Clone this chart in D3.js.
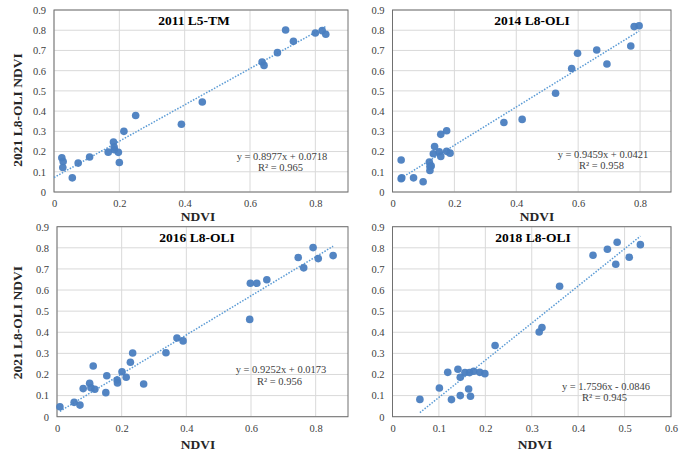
<!DOCTYPE html>
<html>
<head>
<meta charset="utf-8">
<script src="https://cdn.jsdelivr.net/npm/d3@7"></script>
<style>
  body { margin: 0; background: #fff; }
  svg text { font-family: "Liberation Serif", "Times New Roman", serif; }
</style>
</head>
<body>
<svg id="chart"></svg>
<script>
var width = 690;
var height = 453;

// data: x = old-sensor NDVI, y = 2021 L8-OLI NDVI
var x2011 = [0.024,0.028,0.027,0.056,0.074,0.109,0.166,0.182,0.184,0.185,0.197,0.200,0.214,0.250,0.390,0.454,0.637,0.643,0.684,0.709,0.733,0.800,0.821,0.832];
var y2011 = [0.169,0.151,0.121,0.070,0.143,0.173,0.197,0.247,0.222,0.209,0.196,0.146,0.300,0.378,0.335,0.445,0.643,0.626,0.689,0.801,0.745,0.786,0.798,0.780];

var x2014 = [0.028,0.028,0.030,0.068,0.099,0.119,0.121,0.121,0.125,0.132,0.136,0.151,0.156,0.156,0.175,0.175,0.186,0.360,0.419,0.527,0.579,0.598,0.660,0.693,0.770,0.781,0.797];
var y2014 = [0.158,0.066,0.070,0.070,0.051,0.148,0.126,0.106,0.129,0.189,0.225,0.199,0.176,0.285,0.303,0.201,0.192,0.344,0.359,0.488,0.611,0.686,0.702,0.633,0.722,0.818,0.822];

var x2016 = [0.009,0.053,0.071,0.081,0.101,0.105,0.117,0.112,0.151,0.154,0.186,0.187,0.201,0.214,0.227,0.234,0.268,0.337,0.371,0.390,0.596,0.598,0.618,0.649,0.746,0.763,0.792,0.808,0.854];
var y2016 = [0.047,0.068,0.055,0.133,0.158,0.137,0.130,0.240,0.114,0.194,0.174,0.160,0.213,0.187,0.258,0.302,0.155,0.303,0.373,0.359,0.461,0.632,0.632,0.649,0.754,0.705,0.801,0.749,0.763];

var x2018 = [0.059,0.101,0.119,0.127,0.141,0.146,0.146,0.156,0.164,0.168,0.166,0.175,0.188,0.199,0.221,0.316,0.322,0.360,0.432,0.463,0.484,0.481,0.510,0.534];
var y2018 = [0.082,0.136,0.210,0.081,0.225,0.187,0.100,0.209,0.131,0.097,0.209,0.215,0.210,0.204,0.337,0.401,0.422,0.618,0.765,0.793,0.826,0.722,0.755,0.815];

var titles = ["2011 L5-TM", "2014 L8-OLI", "2016 L8-OLI", "2018 L8-OLI"];
var slopes = [0.8977, 0.9459, 0.9252, 1.7596];
var intercepts = [0.0718, 0.0421, 0.0173, -0.0846];
var r2 = [0.965, 0.958, 0.956, 0.945];
var xMax = [0.9, 0.9, 0.9, 0.6];
var xStep = [0.2, 0.2, 0.2, 0.1];
var trendFrom = [0, null, null, null];

var xs = [x2011, x2014, x2016, x2018];
var ys = [y2011, y2014, y2016, y2018];

// plot boxes
var boxes = [
  {l:54, r:348, t:10, b:192},
  {l:392.5, r:671, t:10, b:192},
  {l:57, r:348, t:226.7, b:416.7},
  {l:392.5, r:671, t:226.7, b:416.7}
];
// label spots (title, equation)
var spots = [
  {tx:194, ty:25, ex:282, ey:159.5, nx:198, ny:221},
  {tx:532, ty:25, ex:603, ey:157.5, nx:537, ny:221},
  {tx:197, ty:242, ex:281, ey:373, nx:198, ny:449},
  {tx:533, ty:242, ex:606, ey:389.5, nx:535, ny:449}
];

var dotColor = "#4a7ec0";
var trendColor = "#5b9bd5";

var svg = d3.select("#chart").attr("width", width).attr("height", height);

function fmt(v){ return v === 0 ? "0" : d3.format(".1f")(v); }

boxes.forEach(function(box, i){
  var xscale = d3.scaleLinear().domain([0, xMax[i]]).range([box.l, box.r]);
  var yscale = d3.scaleLinear().domain([0, 0.9]).range([box.b, box.t]);
  var g = svg.append("g");

  var xticks = d3.range(0, xMax[i] + 1e-9, xStep[i]).map(function(v){ return +v.toFixed(2); });
  var yticks = d3.range(0, 0.9 + 1e-9, 0.1).map(function(v){ return +v.toFixed(2); });

  // grid
  g.selectAll(".gy").data(yticks).enter().append("line")
    .attr("x1", box.l).attr("x2", box.r)
    .attr("y1", function(d){ return yscale(d); }).attr("y2", function(d){ return yscale(d); })
    .attr("stroke", "#d9d9d9").attr("stroke-width", 1);
  g.selectAll(".gx").data(xticks).enter().append("line")
    .attr("y1", box.t).attr("y2", box.b)
    .attr("x1", function(d){ return xscale(d); }).attr("x2", function(d){ return xscale(d); })
    .attr("stroke", "#d9d9d9").attr("stroke-width", 1);

  // axes (labels only)
  var xaxis = d3.axisBottom(xscale).tickValues(xticks).tickSize(0).tickPadding(8).tickFormat(fmt);
  var yaxis = d3.axisLeft(yscale).tickValues(yticks).tickSize(0).tickPadding(8).tickFormat(fmt);
  var gx = g.append("g").attr("transform", "translate(0," + box.b + ")").call(xaxis);
  var gy = g.append("g").attr("transform", "translate(" + box.l + ",0)").call(yaxis);
  [gx, gy].forEach(function(a){
    a.select(".domain").remove();
    a.selectAll("text").attr("font-family", "Liberation Serif, Times New Roman, serif")
      .attr("font-size", 10.5).attr("fill", "#404040");
  });

  // border
  g.append("rect").attr("x", box.l).attr("y", box.t)
    .attr("width", box.r - box.l).attr("height", box.b - box.t)
    .attr("fill", "none").attr("stroke", "#707070").attr("stroke-width", 1);

  // trendline
  var x0 = trendFrom[i] !== null ? trendFrom[i] : d3.min(xs[i]);
  var x1 = d3.max(xs[i]);
  g.append("line")
    .attr("x1", xscale(x0)).attr("y1", yscale(slopes[i] * x0 + intercepts[i]))
    .attr("x2", xscale(x1)).attr("y2", yscale(slopes[i] * x1 + intercepts[i]))
    .attr("stroke", trendColor).attr("stroke-width", 1.5)
    .attr("stroke-dasharray", "1.5,1.5");

  // points
  g.selectAll("circle").data(xs[i].map(function(v, k){ return {x:v, y:ys[i][k]}; }))
    .enter().append("circle")
    .attr("cx", function(d){ return xscale(d.x); })
    .attr("cy", function(d){ return yscale(d.y); })
    .attr("r", 3.8)
    .attr("fill", dotColor).attr("fill-opacity", 0.95);

  var s = spots[i];
  g.append("text").attr("x", s.tx).attr("y", s.ty).attr("text-anchor", "middle")
    .attr("font-size", 13.5).attr("font-weight", "bold").attr("fill", "#000").text(titles[i]);

  var sign = intercepts[i] < 0 ? " - " : " + ";
  g.append("text").attr("x", s.ex).attr("y", s.ey).attr("text-anchor", "middle")
    .attr("font-size", 10.5).attr("fill", "#404040")
    .text("y = " + slopes[i].toFixed(4) + "x" + sign + Math.abs(intercepts[i]).toFixed(4));
  g.append("text").attr("x", s.ex - 1.5).attr("y", s.ey + 11.5).attr("text-anchor", "middle")
    .attr("font-size", 10.5).attr("fill", "#404040")
    .text("R² = " + r2[i].toFixed(3));

  g.append("text").attr("x", s.nx).attr("y", s.ny).attr("text-anchor", "middle")
    .attr("font-size", 13.5).attr("font-weight", "bold").attr("fill", "#262626").text("NDVI");

  if (i % 2 === 0) {
    var cy = (box.t + box.b) / 2 + (i === 0 ? 9 : 1);
    g.append("text").attr("transform", "translate(22," + cy + ") rotate(-90)")
      .attr("text-anchor", "middle").attr("font-size", 13.5).attr("font-weight", "bold")
      .attr("fill", "#262626").text("2021 L8-OLI NDVI");
  }
});
</script>
</body>
</html>
